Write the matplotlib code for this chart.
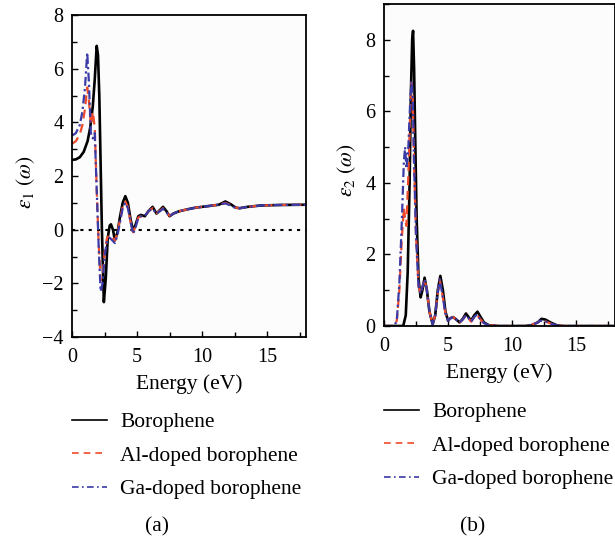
import matplotlib
matplotlib.use("Agg")
import matplotlib.pyplot as plt
from matplotlib.ticker import MultipleLocator
from matplotlib.lines import Line2D

plt.rcParams['font.family'] = ['Liberation Serif', 'DejaVu Serif']
plt.rcParams['mathtext.fontset'] = 'stix'

FS = 14.5     # tick labels
FL = 15.5     # labels / legend

# ---------------- data: epsilon_1 (real part) ----------------
e1_boro_E = [0, 0.3, 0.6, 0.9, 1.2, 1.4, 1.6, 1.75, 1.9, 2.0, 2.1, 2.2, 2.3, 2.45, 2.6, 2.75,
             2.9, 3.0, 3.15, 3.3, 3.5, 3.7, 3.9, 4.1, 4.3, 4.5, 4.7, 4.9, 5.1, 5.3, 5.6, 5.9,
             6.2, 6.5, 6.8, 7.0, 7.25, 7.5, 7.8, 8.2, 8.8, 9.5, 10.5, 11.3, 11.8, 12.2, 12.6,
             12.9, 13.5, 14.5, 16, 18]
e1_boro = [2.6, 2.62, 2.7, 2.9, 3.3, 3.8, 4.6, 5.6, 6.85, 6.5, 5.0, 2.5, 0.0, -2.7, -1.8, -0.3,
           0.15, 0.2, 0.0, -0.4, -0.1, 0.5, 1.0, 1.25, 1.0, 0.4, -0.05, 0.2, 0.5, 0.55, 0.5, 0.7,
           0.85, 0.6, 0.75, 0.85, 0.7, 0.5, 0.6, 0.68, 0.75, 0.82, 0.88, 0.93, 1.05, 0.95, 0.82,
           0.8, 0.85, 0.9, 0.92, 0.93]

e1_dop_E = [0, 0.3, 0.6, 0.8, 1.0, 1.17, 1.3, 1.45, 1.6, 1.75, 1.9, 2.05, 2.2, 2.35, 2.5, 2.7,
            2.9, 3.1, 3.3, 3.5, 3.7, 3.9, 4.1, 4.3, 4.5, 4.7, 4.9, 5.1, 5.3, 5.6, 5.9, 6.2, 6.5,
            6.8, 7.0, 7.25, 7.5, 7.8, 8.2, 8.8, 9.5, 10.5, 11.3, 11.8, 12.2, 12.6, 12.9, 13.5,
            14.5, 16, 18]
e1_al = [3.2, 3.3, 3.55, 3.9, 4.5, 5.3, 4.8, 3.9, 4.4, 3.8, 1.5, -0.5, -1.9, -1.7, -0.9, -0.3,
         -0.2, -0.3, -0.4, -0.1, 0.4, 0.85, 1.05, 0.85, 0.3, -0.1, 0.15, 0.45, 0.5, 0.5, 0.7, 0.8,
         0.62, 0.72, 0.8, 0.68, 0.52, 0.6, 0.68, 0.75, 0.82, 0.88, 0.93, 1.0, 0.92, 0.82, 0.8,
         0.85, 0.9, 0.92, 0.93]
e1_ga = [3.5, 3.6, 3.9, 4.4, 5.3, 6.6, 5.5, 3.6, 3.4, 3.6, 1.5, -0.6, -2.3, -2.0, -1.0, -0.4,
         -0.3, -0.4, -0.5, -0.2, 0.3, 0.8, 1.0, 0.8, 0.3, -0.15, 0.1, 0.45, 0.5, 0.5, 0.7, 0.78,
         0.6, 0.7, 0.78, 0.66, 0.5, 0.6, 0.68, 0.75, 0.82, 0.88, 0.93, 0.98, 0.9, 0.8, 0.8,
         0.85, 0.9, 0.92, 0.93]

# ---------------- data: epsilon_2 (imaginary part) ----------------
e2_boro_E = [0, 1.0, 1.5, 1.7, 1.85, 2.0, 2.1, 2.2, 2.27, 2.35, 2.45, 2.55, 2.7, 2.86, 3.0, 3.17,
             3.35, 3.55, 3.8, 4.0, 4.2, 4.4, 4.6, 4.8, 5.0, 5.2, 5.4, 5.65, 5.9, 6.15, 6.4, 6.6,
             6.8, 7.05, 7.3, 7.55, 7.8, 8.2, 9, 10, 11, 11.5, 12, 12.3, 12.6, 13, 13.5, 14, 16, 18]
e2_boro = [0, 0, 0, 0.3, 1.5, 4.0, 6.5, 8.0, 8.25, 7.2, 5.0, 3.0, 1.3, 0.8, 1.0, 1.35,
           1.0, 0.4, 0.05, 0.3, 1.0, 1.4, 1.0, 0.4, 0.15, 0.22, 0.25, 0.18, 0.1, 0.2, 0.35, 0.25,
           0.15, 0.3, 0.4, 0.25, 0.1, 0.02, 0, 0, 0, 0.02, 0.1, 0.2, 0.18, 0.1, 0.02, 0, 0, 0]

e2_dop_E = [0, 0.8, 1.0, 1.2, 1.4, 1.55, 1.65, 1.75, 1.9, 2.05, 2.15, 2.25, 2.35, 2.5, 2.7, 2.86,
            3.0, 3.17, 3.35, 3.55, 3.8, 4.0, 4.15, 4.35, 4.55, 4.8, 5.0, 5.2, 5.4, 5.65, 5.9,
            6.15, 6.4, 6.6, 6.8, 7.05, 7.25, 7.5, 7.8, 8.2, 9, 10, 11, 11.5, 12, 12.2, 12.6, 13,
            13.5, 14, 16, 18]
e2_al = [0, 0, 0.15, 1.0, 2.5, 3.3, 3.0, 2.8, 4.2, 6.0, 6.8, 6.3, 4.5, 2.5, 1.1, 0.9,
         1.1, 1.3, 1.0, 0.4, 0.05, 0.3, 0.8, 1.3, 0.9, 0.35, 0.15, 0.22, 0.25, 0.18, 0.1,
         0.18, 0.3, 0.22, 0.12, 0.25, 0.32, 0.2, 0.08, 0.02, 0, 0, 0, 0.02, 0.1, 0.15, 0.13, 0.07,
         0.02, 0, 0, 0]
e2_ga = [0, 0, 0.15, 1.2, 3.0, 4.6, 5.0, 4.4, 5.0, 6.3, 6.85, 6.3, 4.5, 2.5, 1.1, 0.9,
         1.1, 1.3, 1.0, 0.4, 0.05, 0.3, 0.8, 1.3, 0.9, 0.35, 0.15, 0.22, 0.25, 0.18, 0.1,
         0.18, 0.3, 0.22, 0.12, 0.25, 0.32, 0.2, 0.08, 0.02, 0, 0, 0, 0.02, 0.1, 0.15, 0.13, 0.07,
         0.02, 0, 0, 0]

labels = ['Borophene', 'Al-doped borophene', 'Ga-doped borophene']
x_ticks = [0, 5, 10, 15]

RED = '#EE4B2B'
BLUE = '#3B3BA8'

W, H = 615, 544
fig = plt.figure(figsize=(W / 100, H / 100), dpi=100)

def px_axes(l, t, r, b):
    return fig.add_axes([l / W, 1 - b / H, (r - l) / W, (b - t) / H])

ax1 = px_axes(72, 15, 306, 337)
ax2 = px_axes(384, 4, 614.5, 326)

def style(ax, ylim, ymaj):
    ax.set_xlim(0, 18)
    ax.set_ylim(*ylim)
    ax.set_xticks(x_ticks)
    ax.xaxis.set_minor_locator(MultipleLocator(2.5))
    ax.yaxis.set_major_locator(MultipleLocator(ymaj))
    ax.yaxis.set_minor_locator(MultipleLocator(1))
    ax.tick_params(which='both', direction='in', top=False, right=False,
                   labelsize=FS, width=1.0)
    ax.tick_params(which='major', length=4)
    ax.tick_params(axis='x', which='major', pad=8)
    ax.tick_params(axis='y', which='major', pad=6)
    ax.tick_params(which='minor', length=3.5)
    for s in ax.spines.values():
        s.set_linewidth(1.3)
    ax.set_facecolor('#fcfcfc')
    ax.set_xlabel('Energy (eV)', fontsize=FL, labelpad=5)

# panel (a)
ax1.axhline(0, color='black', lw=1.5, ls=(0, (1.5, 2.5)))
ax1.plot(e1_boro_E, e1_boro, color='black', lw=1.9)
ax1.plot(e1_dop_E, e1_al, color=RED, lw=1.6, ls=(0, (4, 2.5)))
ax1.plot(e1_dop_E, e1_ga, color=BLUE, lw=1.6, ls=(0, (4, 1.5, 1, 1.5)))
style(ax1, (-4, 8), 2)
ax1.set_yticks([-4, -2, 0, 2, 4, 6, 8])
ax1.set_yticklabels(['\u22124', '\u22122', '0', '2', '4', '6', '8'])

# panel (b)
ax2.plot(e2_boro_E, e2_boro, color='black', lw=1.9)
ax2.plot(e2_dop_E, e2_al, color=RED, lw=1.6, ls=(0, (4, 2.5)))
ax2.plot(e2_dop_E, e2_ga, color=BLUE, lw=1.6, ls=(0, (4, 1.5, 1, 1.5)))
style(ax2, (0, 9), 2)

fig.text(26 / W, 1 - 182 / H, r'$\varepsilon_1\ (\omega)$', rotation=90,
         ha='center', va='center', fontsize=FL)
fig.text(347 / W, 1 - 170 / H, r'$\varepsilon_2\ (\omega)$', rotation=90,
         ha='center', va='center', fontsize=FL)

leg_handles = [Line2D([], [], color='black', lw=1.2),
               Line2D([], [], color=RED, lw=1.2, ls=(0, (4, 3))),
               Line2D([], [], color=BLUE, lw=1.2, ls=(0, (4, 2, 1, 2)))]

for (xl, yt) in [(72, 412), (384, 402)]:
    fig.legend(leg_handles, labels, loc='upper left',
               bbox_to_anchor=(xl / W, 1 - yt / H), frameon=False,
               fontsize=FL, handlelength=1.63, handletextpad=0.6,
               labelspacing=0.63, borderpad=0, borderaxespad=0)

fig.text(157 / W, 1 - 527 / H, '(a)', ha='center', va='center', fontsize=FL)
fig.text(473 / W, 1 - 527 / H, '(b)', ha='center', va='center', fontsize=FL)

fig.savefig('out.png', dpi=100)
